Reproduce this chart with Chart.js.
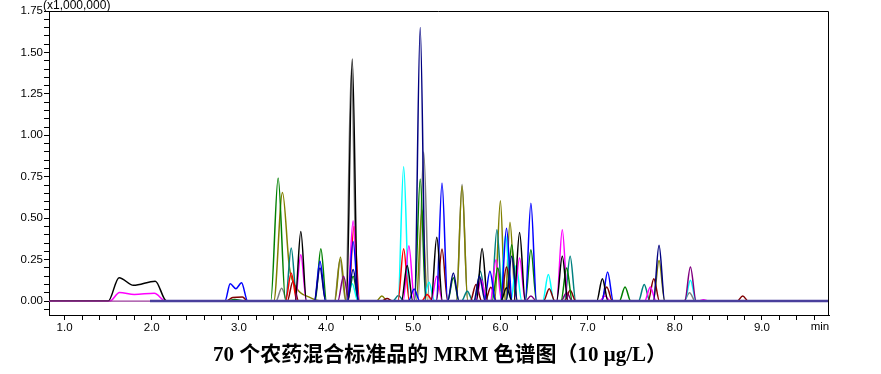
<!DOCTYPE html>
<html>
<head>
<meta charset="utf-8">
<script src="https://cdn.jsdelivr.net/npm/chart.js@4/dist/chart.umd.min.js"></script>
<style>
  html, body { margin: 0; padding: 0; background: #fff; }
</style>
</head>
<body>
<canvas id="grafica" width="881" height="374"></canvas>
<script>
// Ejes (minutos / x1,000,000 cuentas)
const tiempoMin = 0.821, tiempoMax = 9.77;
const alturaMin = -0.084, alturaMax = 1.75;

// Picos de cada traza: [tiempo de retención, altura] (opcional: semiancho en min)
const picosNegro   = [[3.71,0.42],[4.30,1.46],[4.93,0.214],[5.27,0.385],[5.79,0.317],[6.07,0.08],[6.22,0.414],[6.71,0.27],[7.17,0.135]];
const picosMagenta = [[3.71,0.28],[4.31,0.485],[4.95,0.334],[5.27,0.15],[5.78,0.13],[5.95,0.25],[6.22,0.26],[6.71,0.43],[7.20,0.03],[7.72,0.085],[8.33,0.008]];
const picosAzul    = [[3.93,0.24],[4.31,0.36],[5.01,0.073],[5.33,0.712],[5.88,0.18],[6.07,0.44],[6.35,0.59],[7.23,0.175]];
const picosGranate = [[3.62,0.12],[4.70,0.015],[5.33,0.314],[5.72,0.1],[5.89,0.083],[6.07,0.205],[6.56,0.075],[6.80,0.065],[7.22,0.085],[7.76,0.135],[8.78,0.03]];
const picosVerde   = [[3.45,0.742,0.085],[3.94,0.315],[4.31,0.15],[5.08,0.736],[5.46,0.14],[5.97,0.2],[6.13,0.34],[6.35,0.31],[6.76,0.2],[7.43,0.085]];
const picosOliva   = [[4.165,0.265],[4.64,0.03],[5.10,0.55],[5.56,0.695],[6.00,0.606],[6.11,0.475],[7.82,0.245]];
const picosTeal    = [[3.60,0.32],[4.83,0.033],[5.62,0.06],[5.77,0.18],[5.96,0.43],[6.80,0.27],[7.65,0.10]];
const picosCian    = [[4.30,0.105],[4.89,0.81],[5.18,0.113],[6.06,0.40],[6.18,0.215],[6.55,0.16],[8.18,0.125]];
const picosRojo    = [[3.60,0.17],[4.32,0.45],[4.89,0.315],[5.16,0.04]];
const picosMarino  = [[3.93,0.2],[4.31,0.19],[5.08,1.65],[5.46,0.17],[5.76,0.15],[6.13,0.27],[7.82,0.337]];
const picosMorado  = [[4.20,0.15],[6.35,0.03],[6.76,0.05],[8.18,0.205]];
const picosGris    = [[3.49,0.077],[4.16,0.25],[4.29,1.40],[5.12,0.90],[5.56,0.705],[8.17,0.05]];

// Señales anchas (perfil completo)
const anchoNegro   = [[1.50,0],[1.625,0.141],[1.79,0.095],[2.04,0.12],[2.17,0]];
const anchoMagenta = [[1.52,0],[1.63,0.052],[1.80,0.04],[2.03,0.047],[2.16,0]];
const anchoAzul    = [[2.84,0],[2.90,0.104],[2.965,0.075],[3.03,0.11],[3.10,0]];
const anchoGranate = [[2.85,0],[2.93,0.022],[3.04,0.025],[3.10,0]];
const anchoVerde   = [[2.86,0],[2.95,0.01],[3.07,0]];
const anchoOliva   = [[3.40,0],[3.50,0.655],[3.58,0.2],[3.66,0.08],[3.80,0.025],[3.95,0]];

const semiancho = 0.065;

// Construye la traza uniendo picos y perfiles sobre la línea base
function construirTraza(picos, anchos, inicio, fin) {
  const segmentos = picos.map(p => {
    const w = p[2] || semiancho;
    return [{x: p[0] - w, y: 0}, {x: p[0], y: p[1]}, {x: p[0] + w, y: 0}];
  });
  if (anchos) segmentos.push(anchos.map(p => ({x: p[0], y: p[1]})));
  segmentos.sort((a, b) => a[0].x - b[0].x);
  const puntos = [{x: inicio, y: 0}];
  segmentos.forEach(seg => {
    const s = seg.slice();
    const ultimo = puntos[puntos.length - 1];
    if (ultimo.y === 0 && s[0].y === 0 && s[0].x <= ultimo.x) {
      const previo = puntos[puntos.length - 2];
      puntos.pop();
      puntos.push({x: (previo.x + s[1].x) / 2, y: 0});
      s.shift();
    }
    puntos.push(...s);
  });
  puntos.push({x: fin, y: 0});
  return puntos;
}

function traza(etiqueta, color, picos, anchos, inicio) {
  return {
    label: etiqueta,
    data: construirTraza(picos, anchos, inicio, tiempoMax),
    borderColor: color,
    borderWidth: 1.5,
    pointRadius: 0,
    fill: false,
    cubicInterpolationMode: 'monotone',
  };
}

// El primer dataset se dibuja encima
const datasets = [
  {
    label: 'base',
    data: [{x: tiempoMin, y: 0}, {x: 1.98, y: 0}, {x: tiempoMax, y: 0}],
    borderColor: '#4a3f9c',
    borderWidth: 2.5,
    pointRadius: 0,
    segment: {
      borderColor: c => c.p0DataIndex === 0 ? '#9a3a9a' : '#4a3f9c',
      borderWidth: c => c.p0DataIndex === 0 ? 1.2 : 2.5,
    },
  },
  traza('marino', '#000080', picosMarino, null, 1.98),
  traza('negro', '#000000', picosNegro, anchoNegro, tiempoMin),
  traza('azul', '#0000ff', picosAzul, anchoAzul, 1.98),
  traza('verde', '#008000', picosVerde, anchoVerde, 1.98),
  traza('magenta', '#ff00ff', picosMagenta, anchoMagenta, tiempoMin),
  traza('rojo', '#ff0000', picosRojo, null, 1.98),
  traza('granate', '#800000', picosGranate, anchoGranate, 1.98),
  traza('morado', '#800080', picosMorado, null, 1.98),
  traza('cian', '#00ffff', picosCian, null, 1.98),
  traza('teal', '#008080', picosTeal, null, 1.98),
  traza('oliva', '#808000', picosOliva, anchoOliva, 1.98),
  traza('gris', '#808080', picosGris, null, 1.98),
];

const fuenteTicks = {family: "'Liberation Sans', Arial, sans-serif", size: 11.5};

// Marco, títulos y unidades
const textosExtra = {
  id: 'textosExtra',
  afterDraw(chart) {
    const {ctx, chartArea} = chart;
    ctx.save();
    ctx.strokeStyle = '#000';
    ctx.lineWidth = 1;
    ctx.beginPath();
    ctx.moveTo(chartArea.left, chartArea.top + 0.5);
    ctx.lineTo(chartArea.right - 0.5, chartArea.top + 0.5);
    ctx.lineTo(chartArea.right - 0.5, chartArea.bottom);
    ctx.stroke();

    ctx.fillStyle = '#000';
    ctx.font = "12px 'Liberation Sans', Arial, sans-serif";
    ctx.textAlign = 'left';
    ctx.textBaseline = 'middle';
    ctx.fillText('(x1,000,000)', 43, 6);
    ctx.textAlign = 'center';
    ctx.font = "11.5px 'Liberation Sans', Arial, sans-serif";
    ctx.fillText('min', 820, 327);

    ctx.font = "bold 21px 'Liberation Serif', 'Noto Sans CJK SC', serif";
    ctx.fillText('70 个农药混合标准品的 MRM 色谱图（10 μg/L）', 440, 356);
    ctx.restore();
  }
};

const ctx = document.getElementById('grafica').getContext('2d');
new Chart(ctx, {
  type: 'line',
  data: {datasets: datasets},
  options: {
    responsive: false,
    animation: false,
    layout: {padding: {top: 11, right: 52, bottom: 0, left: 0}},
    plugins: {
      legend: {display: false},
      tooltip: {enabled: false},
    },
    scales: {
      x: {
        type: 'linear',
        min: tiempoMin,
        max: tiempoMax,
        afterBuildTicks: s => {
          const t = [];
          for (let i = 5; i <= 48; i++) t.push({value: i / 5});
          s.ticks = t;
        },
        afterFit: s => { s.height = 59; },
        ticks: {
          autoSkip: false,
          maxRotation: 0,
          padding: 1,
          color: '#000',
          font: fuenteTicks,
          callback: v => Math.abs(v - Math.round(v)) < 1e-6 ? v.toFixed(1) : '',
        },
        grid: {display: true, drawOnChartArea: false, drawTicks: true, tickLength: 5, color: '#000'},
        border: {display: true, color: '#000', width: 1},
      },
      y: {
        type: 'linear',
        min: alturaMin,
        max: alturaMax,
        afterBuildTicks: s => {
          const t = [];
          for (let i = -1; i <= 35; i++) t.push({value: i / 20});
          s.ticks = t;
        },
        afterFit: s => { s.width = 49; },
        ticks: {
          autoSkip: false,
          padding: 1,
          color: '#000',
          font: fuenteTicks,
          callback: v => (v >= 0 && Math.abs(v * 4 - Math.round(v * 4)) < 1e-6) ? v.toFixed(2) : '',
        },
        grid: {display: true, drawOnChartArea: false, drawTicks: true, tickLength: 5, color: '#000'},
        border: {display: true, color: '#000', width: 1},
      },
    },
  },
  plugins: [textosExtra],
});
</script>
</body>
</html>
